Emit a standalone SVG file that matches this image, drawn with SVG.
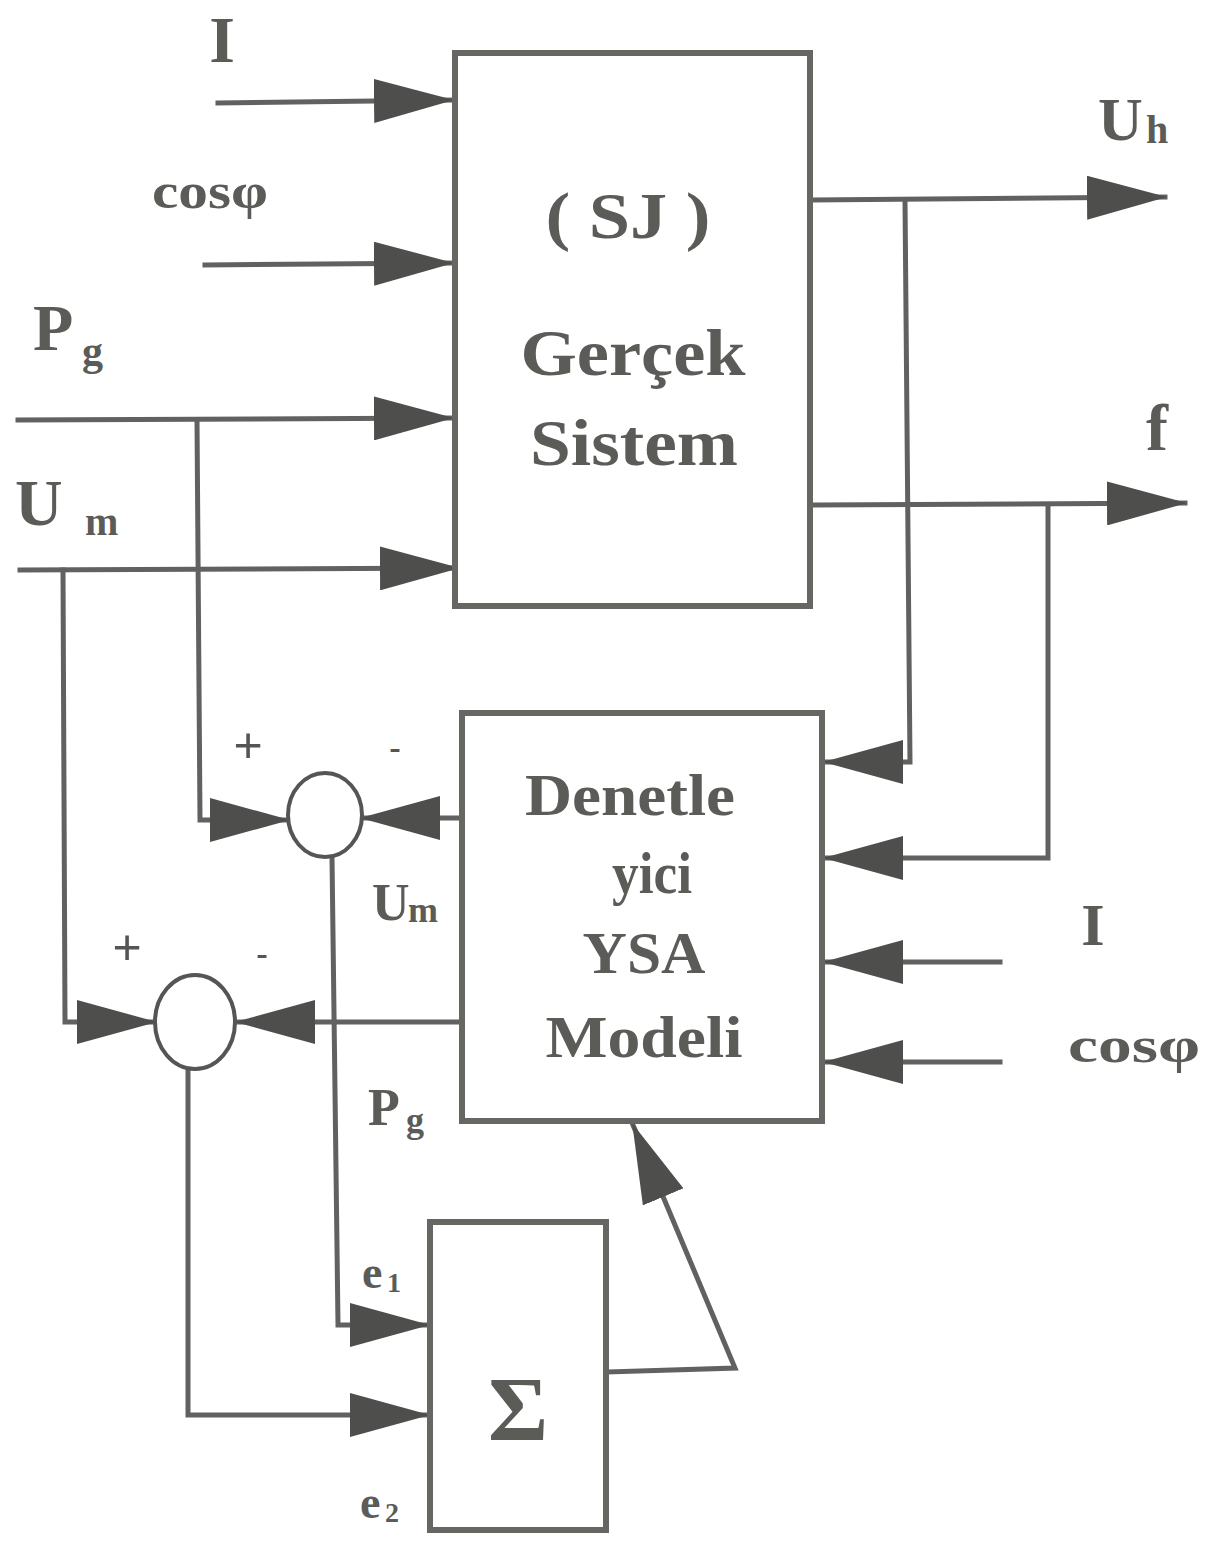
<svg xmlns="http://www.w3.org/2000/svg" width="1209" height="1545" viewBox="0 0 1209 1545">
<style>
.ln{fill:none;stroke:#616161;stroke-width:5;stroke-linecap:square}
.bx{fill:#ffffff;stroke:#666663;stroke-width:6}
.t{font-family:"Liberation Serif","DejaVu Serif",serif;font-weight:bold;fill:#5b5b58}
.s{font-family:"Liberation Sans","DejaVu Sans",sans-serif;fill:#555}
</style>
<defs>
<marker id="ah" viewBox="0 0 80 44" markerWidth="80" markerHeight="44" refX="78" refY="22" orient="auto" markerUnits="userSpaceOnUse">
<path d="M0,0 L80,22 L0,44 z" fill="#4e4e4c"/>
</marker>
</defs>
<rect width="1209" height="1545" fill="#ffffff"/>

<g id="connectors">
<path class="ln" d="M218,103 L452,100" marker-end="url(#ah)"/>
<path class="ln" d="M205,265 L452,263" marker-end="url(#ah)"/>
<path class="ln" d="M18,420 L452,418" marker-end="url(#ah)"/>
<path class="ln" d="M20,570 L458,568" marker-end="url(#ah)"/>
<path class="ln" d="M197,420 L200,820 L288,820" marker-end="url(#ah)"/>
<path class="ln" d="M63,570 L65,1022 L155,1022" marker-end="url(#ah)"/>
<path class="ln" d="M460,818 L362,818" marker-end="url(#ah)"/>
<path class="ln" d="M460,1022 L237,1022" marker-end="url(#ah)"/>
<path class="ln" d="M332,857 L338,1325 L428,1325" marker-end="url(#ah)"/>
<path class="ln" d="M188,1069 L188,1415 L428,1415" marker-end="url(#ah)"/>
<path class="ln" d="M812,200 L1165,197" marker-end="url(#ah)"/>
<path class="ln" d="M905,200 L910,762 L825,762" marker-end="url(#ah)"/>
<path class="ln" d="M815,505 L1185,503" marker-end="url(#ah)"/>
<path class="ln" d="M1048,505 L1048,858 L825,858" marker-end="url(#ah)"/>
<path class="ln" d="M1000,962 L825,962" marker-end="url(#ah)"/>
<path class="ln" d="M1000,1062 L825,1062" marker-end="url(#ah)"/>
<path class="ln" d="M608,1372 L735,1368 L633,1125" marker-end="url(#ah)"/>
</g>

<g id="sj">
<rect class="bx" x="455" y="53" width="355" height="553"/>
<text class="t" x="628" y="238" font-size="66" text-anchor="middle" textLength="165" lengthAdjust="spacingAndGlyphs">( SJ )</text>
<text class="t" x="633" y="375" font-size="66" text-anchor="middle" textLength="225" lengthAdjust="spacingAndGlyphs">Gerçek</text>
<text class="t" x="634" y="465" font-size="66" text-anchor="middle" textLength="208" lengthAdjust="spacingAndGlyphs">Sistem</text>
</g>

<g id="ysa">
<rect class="bx" x="462" y="713" width="360" height="408"/>
<text class="t" x="630" y="815" font-size="60" text-anchor="middle" textLength="210" lengthAdjust="spacingAndGlyphs">Denetle</text>
<text class="t" x="652" y="893" font-size="60" text-anchor="middle" textLength="80" lengthAdjust="spacingAndGlyphs">yici</text>
<text class="t" x="644" y="973" font-size="60" text-anchor="middle" textLength="123" lengthAdjust="spacingAndGlyphs">YSA</text>
<text class="t" x="644" y="1057" font-size="60" text-anchor="middle" textLength="197" lengthAdjust="spacingAndGlyphs">Modeli</text>
</g>

<g id="sigma">
<rect class="bx" x="430" y="1222" width="176" height="308"/>
<text class="t" x="518" y="1440" font-size="92" text-anchor="middle">Σ</text>
</g>

<g id="sum1">
<ellipse cx="325" cy="815" rx="37" ry="42" fill="#fff" stroke="#555" stroke-width="4"/>
<text class="s" x="248" y="762" font-size="50" text-anchor="middle">+</text>
<text class="s" x="395" y="760" font-size="36" text-anchor="middle">-</text>
</g>

<g id="sum2">
<ellipse cx="195" cy="1022" rx="40" ry="47" fill="#fff" stroke="#555" stroke-width="4"/>
<text class="s" x="127" y="964" font-size="50" text-anchor="middle">+</text>
<text class="s" x="262" y="966" font-size="36" text-anchor="middle">-</text>
</g>

<g id="labels">
<text class="t" x="222" y="62" font-size="66" text-anchor="middle">I</text>
<text class="t" x="152" y="208" font-size="50" textLength="116" lengthAdjust="spacingAndGlyphs">cosφ</text>
<text class="t" x="33" y="350" font-size="66">P</text>
<text class="t" x="82" y="365" font-size="42">g</text>
<text class="t" x="15" y="525" font-size="66">U</text>
<text class="t" x="85" y="535" font-size="40">m</text>
<text class="t" x="1098" y="140" font-size="62">U</text>
<text class="t" x="1146" y="143" font-size="40">h</text>
<text class="t" x="1146" y="450" font-size="66">f</text>
<text class="t" x="1093" y="945" font-size="60" text-anchor="middle">I</text>
<text class="t" x="1068" y="1062" font-size="50" textLength="132" lengthAdjust="spacingAndGlyphs">cosφ</text>
<text class="t" x="372" y="920" font-size="52">U</text>
<text class="t" x="408" y="922" font-size="36">m</text>
<text class="t" x="368" y="1125" font-size="52">P</text>
<text class="t" x="406" y="1132" font-size="36">g</text>
<text class="t" x="362" y="1288" font-size="46">e</text>
<text class="t" x="387" y="1292" font-size="28">1</text>
<text class="t" x="360" y="1518" font-size="46">e</text>
<text class="t" x="385" y="1522" font-size="28">2</text>
</g>
</svg>
